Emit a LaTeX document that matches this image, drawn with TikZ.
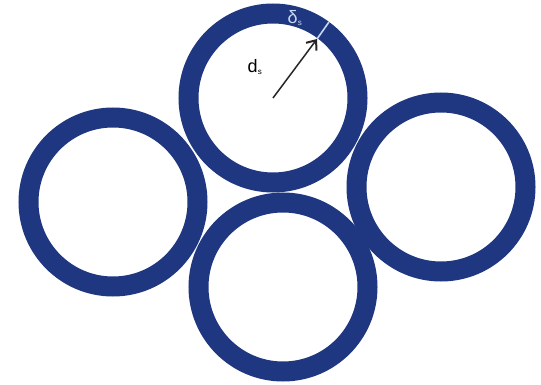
\documentclass[tikz,border=0pt]{standalone}
\usepackage{fontspec}
\setmainfont{Liberation Sans}
\usetikzlibrary{arrows.meta}
\definecolor{ringblue}{RGB}{30,55,128}
\definecolor{ticklight}{RGB}{200,215,240}
\tikzset{
  ring/.style={draw=ringblue, line width=20pt},
  radiusarrow/.style={draw=black!85, line width=1.5pt, -{Straight Barb[length=8pt,width=13pt,line width=2pt]}},
  tick/.style={draw=ticklight, line width=1.6pt},
  lbl/.style={inner sep=0pt, font=\fontsize{18pt}{18pt}\selectfont}
}
\begin{document}
\begin{tikzpicture}[x=1pt,y=-1pt]
\useasboundingbox (0,0) rectangle (541,385);
\fill[white] (0,0) rectangle (541,385);
\coordinate (ctop) at (273,98);
\coordinate (cleft) at (113,202);
\coordinate (cright) at (441,187);
\coordinate (cbottom) at (283,287);
\draw[ring] (cleft) circle[radius=84.5];
\draw[ring] (cright) circle[radius=84.5];
\draw[ring] (cbottom) circle[radius=84.5];
\draw[ring] (ctop) circle[radius=84.5];
\coordinate (tip) at (317,39);
\coordinate (t1) at (317,39);
\coordinate (t2) at (329,22);
\draw[radiusarrow] (ctop) -- (tip);
\draw[tick] (t1) -- (t2);
\node[lbl, text=black] (ds) at (255,67) {d\textsubscript{\fontsize{8pt}{8pt}\selectfont s}};
\node[lbl, text=ticklight] (delta) at (295,18) {δ\textsubscript{\fontsize{8pt}{8pt}\selectfont s}};
\end{tikzpicture}
\end{document}
